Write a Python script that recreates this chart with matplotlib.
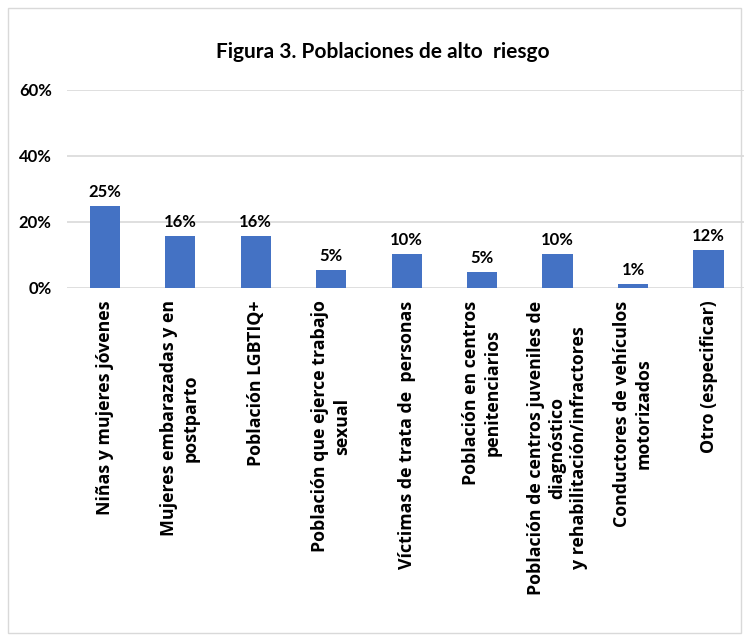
import matplotlib.pyplot as plt
from matplotlib.patches import Rectangle

plt.rcParams['font.family'] = ['Lato', 'DejaVu Sans']

# Datos
categorias = [
    "Niñas y mujeres jóvenes",
    "Mujeres embarazadas y en\npostparto",
    "Población LGBTIQ+",
    "Población que ejerce trabajo\nsexual",
    "Víctimas de trata de  personas",
    "Población en centros\npenitenciarios",
    "Población de centros juveniles de\ndiagnóstico\ny rehabilitación/infractores",
    "Conductores de vehículos\nmotorizados",
    "Otro (especificar)",
]
valores = [24.8, 15.9, 15.9, 5.4, 10.2, 4.9, 10.2, 1.2, 11.6]
etiquetas = ["25%", "16%", "16%", "5%", "10%", "5%", "10%", "1%", "12%"]
yticks = [0, 20, 40, 60]

fig = plt.figure(figsize=(7.44, 6.38), dpi=100)
ax = fig.add_axes([0.090, 0.5486, 0.910, 0.3104])

x = range(len(categorias))
bars = ax.bar(x, valores, width=0.40, color="#4472C4", zorder=3)

for b, lab in zip(bars, etiquetas):
    ax.text(b.get_x() + b.get_width() / 2, b.get_height() + 1.8, lab,
            ha="center", va="bottom", fontsize=12, fontweight="bold")

ax.set_ylim(0, 60)
ax.set_xlim(-0.5, 8.47)
ax.set_yticks(yticks)
ax.set_yticklabels([f"{t}%" for t in yticks], fontsize=12, fontweight="bold")
ax.set_xticks(list(x))
ax.set_xticklabels(categorias, rotation=90, fontsize=12.8, fontweight="bold",
                   ha="center", va="top", multialignment="center",
                   family=["Open Sans", "DejaVu Sans"], linespacing=1.25)
ax.tick_params(axis="both", length=0)
ax.tick_params(axis="y", pad=11)
ax.tick_params(axis="x", pad=9)
ax.grid(axis="y", color="#d9d9d9", linewidth=1.2, zorder=0)
for s in ax.spines.values():
    s.set_visible(False)

fig.text(0.515, 0.918, "Figura 3. Poblaciones de alto  riesgo",
         ha="center", va="center", fontsize=15, fontweight="bold")

fig.patches.append(Rectangle((0.011, 0.008), 0.985, 0.979, transform=fig.transFigure,
                             fill=False, edgecolor="#d9d9d9", linewidth=1))

plt.savefig("out.png", dpi=100)
